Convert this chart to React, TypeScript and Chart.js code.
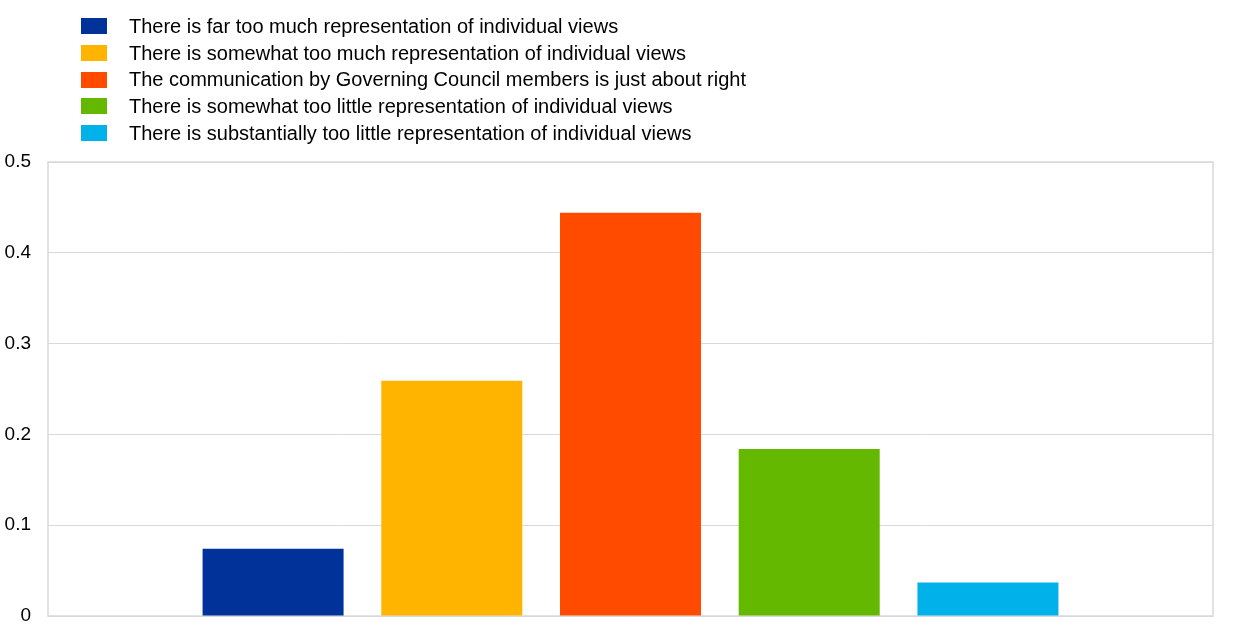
import React, { useEffect, useRef } from "react";
import { Chart, registerables } from "chart.js";

Chart.register(...registerables);

const categories = [""];
const seriesLabels = [
  "There is far too much representation of individual views",
  "There is somewhat too much representation of individual views",
  "The communication by Governing Council members is just about right",
  "There is somewhat too little representation of individual views",
  "There is substantially too little representation of individual views",
];
const seriesValues = [0.074, 0.259, 0.444, 0.184, 0.037];
const seriesColors = ["#003299", "#FFB400", "#FF4B00", "#65B800", "#00B1EA"];
const yTicks = [0, 0.1, 0.2, 0.3, 0.4, 0.5];

const FONT = "'Liberation Sans', Arial, Helvetica, sans-serif";

const frame = {
  id: "frame",
  beforeDatasetsDraw(chart: any) {
    const { ctx, chartArea } = chart;
    ctx.save();
    ctx.strokeStyle = "#d9d9d9";
    ctx.lineWidth = 1.5;
    ctx.strokeRect(chartArea.left, chartArea.top, chartArea.right - chartArea.left, chartArea.bottom - chartArea.top);
    ctx.restore();
  },
};

export default function App() {
  const ref = useRef<HTMLCanvasElement | null>(null);
  useEffect(() => {
    if (!ref.current) return;
    const chart = new Chart(ref.current, {
      type: "bar",
      data: {
        labels: categories,
        datasets: seriesLabels.map((label, i) => ({
          label,
          data: [seriesValues[i]],
          backgroundColor: seriesColors[i],
          borderWidth: 0,
          categoryPercentage: 0.767,
          barPercentage: 0.789,
        })),
      },
      options: {
        animation: false,
        responsive: false,
        maintainAspectRatio: false,
        layout: { padding: { top: 162, right: 27, bottom: 16, left: 0 } },
        plugins: { legend: { display: false }, tooltip: { enabled: false } },
        scales: {
          x: {
            display: false,
          },
          y: {
            min: 0,
            max: 0.5,
            afterFit(scale: any) {
              scale.width = 48;
              scale.paddingTop = 0;
              scale.paddingBottom = 0;
            },
            afterBuildTicks(scale: any) {
              scale.ticks = yTicks.map((v) => ({ value: v }));
            },
            grid: { color: "#d9d9d9", lineWidth: 1, drawTicks: false },
            border: { display: false },
            ticks: {
              padding: 17,
              color: "#000",
              font: { family: FONT, size: 19 },
              callback: (v: any) => String(Math.round(Number(v) * 10) / 10),
            },
          },
        },
      },
      plugins: [frame],
    });
    return () => chart.destroy();
  }, []);

  return (
    <div style={{ position: "absolute", left: 0, top: 0, width: 1240, height: 632, background: "#fff" }}>
      <canvas ref={ref} width={1240} height={632} style={{ position: "absolute", left: 0, top: 0 }} />
      <div style={{ position: "absolute", left: 81, top: 13, fontFamily: FONT, fontSize: 20, color: "#000" }}>
        {seriesLabels.map((label, i) => (
          <div key={i} style={{ display: "flex", alignItems: "center", height: 26.7 }}>
            <span style={{ display: "inline-block", width: 26, height: 16, background: seriesColors[i], marginRight: 22, flexShrink: 0 }} />
            <span style={{ whiteSpace: "nowrap", lineHeight: "26.7px" }}>{label}</span>
          </div>
        ))}
      </div>
    </div>
  );
}
